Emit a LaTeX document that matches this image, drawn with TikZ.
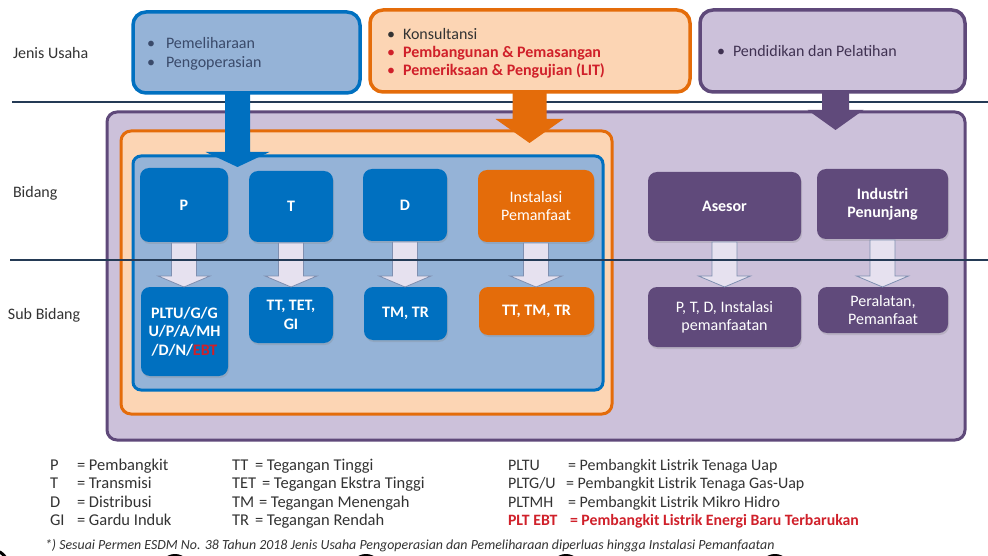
\documentclass[tikz,border=0pt]{standalone}
\usepackage{fontspec}
\setmainfont{Carlito}
\usetikzlibrary{calc,shadows}
\definecolor{bfill}{HTML}{95B3D7}
\definecolor{bdark}{HTML}{0070C0}
\definecolor{ofill}{HTML}{FCD5B4}
\definecolor{odark}{HTML}{E46C0A}
\definecolor{pfill}{HTML}{CCC1DA}
\definecolor{pdark}{HTML}{604A7B}
\definecolor{pborder}{HTML}{5F497A}
\definecolor{afill}{HTML}{E6E1EF}
\definecolor{adraw}{HTML}{7F8FB0}
\definecolor{navy}{HTML}{243A55}
\definecolor{txtgray}{HTML}{333333}
\definecolor{txtblue}{HTML}{3A4A6A}
\definecolor{txtpurple}{HTML}{3F3151}
\definecolor{redtxt}{HTML}{D0202A}
\newcommand{\bkarrow}[6]{%
  \path let \p1=(#1), \p2=(#2) in
    [#6] (\x1-#3pt,\y1) -- (\x1+#3pt,\y1) -- (\x1+#3pt,\y2+#5pt) -- (\x1+#4pt,\y2+#5pt)
    -- (\x1,\y2) -- (\x1-#4pt,\y2+#5pt) -- (\x1-#3pt,\y2+#5pt) -- cycle;}
\begin{document}
\begin{tikzpicture}[x=1pt,y=-1pt,
  every node/.style={inner sep=0pt, outer sep=0pt},
  fs/.style={font=\fontsize{16}{18.5}\selectfont},
  fsb/.style={font=\fontsize{16}{18.5}\selectfont\bfseries},
  topbox/.style={rounded corners=13pt, line width=3.5pt},
  bigbox/.style={rounded corners=10pt, line width=3pt},
  smallbox/.style={rounded corners=9pt, text=white, align=center, fs,
     drop shadow={opacity=0.25, shadow xshift=1pt, shadow yshift=-2pt}},
  bluesb/.style={smallbox, fill=bdark, fsb},
  orangesb/.style={smallbox, fill=odark},
  purplesb/.style={smallbox, fill=pdark},
  hollow/.style={fill=afill, draw=adraw, line width=0.8pt},
  sepline/.style={draw=navy, line width=1.8pt},
  lbl/.style={anchor=base west, fs, text=txtgray},
  leg/.style={anchor=base west, font=\fontsize{16.5}{19}\selectfont, text=txtgray},
  legc/.style={anchor=base west, font=\fontsize{16}{19}\selectfont, text=txtgray},
  legred/.style={anchor=base west, font=\fontsize{15.8}{19}\selectfont\bfseries, text=redtxt}
]
\useasboundingbox (0,0) rectangle (988,556);
\fill[white] (0,0) rectangle (988,556);

% side labels
\node[lbl] (lj) at (13,59) {Jenis Usaha};
\node[lbl] (lb) at (13,198) {Bidang};
\node[lbl] (ls) at (8,319) {Sub Bidang};

% separator 1
\draw[sepline] (12,102) -- (988,102);

% top boxes
\node[topbox, draw=bdark, fill=bfill, minimum width=227pt, minimum height=81pt] (top1) at (246.5,52.5) {};
\node[topbox, draw=odark, fill=ofill, minimum width=320pt, minimum height=82pt] (top2) at (530,51) {};
\node[topbox, draw=pborder, fill=pfill, minimum width=265pt, minimum height=82pt] (top3) at (832.5,51) {};

\node[anchor=base west, fs, text=txtblue] (b1a) at (147,49) {\textbullet};
\node[anchor=base west, fs, text=txtblue] (t1a) at (166,49) {Pemeliharaan};
\node[anchor=base west, fs, text=txtblue] (b1b) at (147,68) {\textbullet};
\node[anchor=base west, fs, text=txtblue] (t1b) at (166,68) {Pengoperasian};

\node[anchor=base west, fs, text=txtgray] (b2a) at (387,40) {\textbullet};
\node[anchor=base west, fs, text=txtgray] (t2a) at (403,40) {Konsultansi};
\node[anchor=base west, fs, text=redtxt] (b2b) at (387,58) {\textbullet};
\node[anchor=base west, fsb, text=redtxt] (t2b) at (403,58) {Pembangunan \& Pemasangan};
\node[anchor=base west, fs, text=redtxt] (b2c) at (387,76) {\textbullet};
\node[anchor=base west, fsb, text=redtxt] (t2c) at (403,76) {Pemeriksaan \& Pengujian (LIT)};

\node[anchor=base west, fs, text=txtpurple] (b3a) at (717,57) {\textbullet};
\node[anchor=base west, fs, text=txtpurple] (t3a) at (733,57) {Pendidikan dan Pelatihan};

% big containers
\node[bigbox, draw=pborder, fill=pfill, minimum width=858pt, minimum height=328pt] (bigp) at (536,276) {};
\node[bigbox, draw=odark, fill=ofill, minimum width=491pt, minimum height=283pt] (bigo) at (366.5,272.5) {};
\node[bigbox, rounded corners=8pt, draw=bdark, fill=bfill, minimum width=470pt, minimum height=234pt] (bigb) at (368,273) {};

% block arrows from top boxes
\coordinate (a1s) at (237.5,92);
\coordinate (a1e) at (237.5,167);
\coordinate (a2s) at (529.5,91);
\coordinate (a2e) at (529.5,143);
\coordinate (a3s) at (835.5,91);
\coordinate (a3e) at (835.5,130);
\bkarrow{a1s}{a1e}{12.5}{32}{15}{fill=bdark}
\bkarrow{a2s}{a2e}{17}{34}{24}{fill=odark}
\bkarrow{a3s}{a3e}{13.5}{28}{20}{fill=pdark}

% bidang boxes
\node[bluesb, minimum width=88pt, minimum height=74pt] (P) at (184,205) {P};
\node[bluesb, minimum width=84pt, minimum height=71pt] (T) at (291,206.5) {T};
\node[bluesb, minimum width=84pt, minimum height=72pt] (D) at (405,205) {D};
\node[orangesb, minimum width=116pt, minimum height=72pt] (I) at (536,206) {Instalasi\\Pemanfaat};
\node[purplesb, fsb, minimum width=153pt, minimum height=69pt] (A) at (724.5,206.5) {Asesor};
\node[purplesb, fsb, minimum width=131pt, minimum height=70pt] (N) at (882.5,204) {Industri\\Penunjang};

% sub bidang boxes
\node[bluesb, minimum width=87pt, minimum height=89pt] (Ps) at (184.5,331.5) {PLTU/G/G\\U/P/A/MH\\/D/N/\textcolor{redtxt}{EBT}};
\node[bluesb, minimum width=84pt, minimum height=56pt] (Ts) at (291,315) {TT, TET,\\GI};
\node[bluesb, minimum width=83pt, minimum height=53pt] (Ds) at (405.5,313.5) {TM, TR};
\node[orangesb, fsb, minimum width=115pt, minimum height=48pt] (Is) at (536.5,311) {TT, TM, TR};
\node[purplesb, minimum width=153pt, minimum height=60pt] (As) at (724.5,317) {P, T, D, Instalasi\\pemanfaatan};
\node[purplesb, minimum width=130pt, minimum height=46pt] (Ns) at (883,310) {Peralatan,\\Pemanfaat};

% hollow arrows
\foreach \a/\b in {P/Ps, T/Ts, D/Ds, I/Is, A/As, N/Ns}{
  \bkarrow{$(\a.south)+(0,1)$}{$(\b.north)+(0,0)$}{12.5}{26}{11}{hollow}
}

% separator 2
\draw[navy, line width=1.4pt] (10,260) -- (988,260);

% legend
\node[leg] (k1) at (50,470) {P};
\node[leg] (k2) at (50,488) {T};
\node[leg] (k3) at (50,507) {D};
\node[leg] (k4) at (50,525) {GI};
\node[leg] (v1) at (77,470) {= Pembangkit};
\node[leg] (v2) at (77,488) {= Transmisi};
\node[leg] (v3) at (77,507) {= Distribusi};
\node[leg] (v4) at (77,525) {= Gardu Induk};

\node[leg] (k5) at (232,470) {TT};
\node[leg] (k6) at (232,488) {TET};
\node[leg] (k7) at (232,507) {TM};
\node[leg] (k8) at (232,525) {TR};
\node[leg] (v5) at (255,470) {= Tegangan Tinggi};
\node[leg] (v6) at (262,488) {= Tegangan Ekstra Tinggi};
\node[leg] (v7) at (259,507) {= Tegangan Menengah};
\node[leg] (v8) at (255,525) {= Tegangan Rendah};

\node[legc] (k9) at (508,470) {PLTU};
\node[legc] (k10) at (508,488) {PLTG/U};
\node[legc] (k11) at (508,507) {PLTMH};
\node[legred] (k12) at (508,525) {PLT EBT};
\node[legc] (v9) at (568,470) {= Pembangkit Listrik Tenaga Uap};
\node[legc] (v10) at (566,488) {= Pembangkit Listrik Tenaga Gas-Uap};
\node[legc] (v11) at (568,507) {= Pembangkit Listrik Mikro Hidro};
\node[legred] (v12) at (570,525) {= Pembangkit Listrik Energi Baru Terbarukan};

% footnote
\node[anchor=base west, font=\fontsize{13.9}{16}\selectfont\itshape, text=txtgray] (fn) at (45,549)
  {*) Sesuai Permen ESDM No. 38 Tahun 2018 Jenis Usaha Pengoperasian dan Pemeliharaan diperluas hingga Instalasi Pemanfaatan};

% cut-off black shapes at the bottom edge
\begin{scope}
\clip (0,0) rectangle (988,556);
\fill[black] (175,570) circle (16);
\fill[black] (366,570) circle (16);
\fill[black] (566,570) circle (16);
\fill[black] (775,570) circle (16);
\draw[black, line width=3pt] (-8,566) circle (16);
\end{scope}
\end{tikzpicture}
\end{document}
